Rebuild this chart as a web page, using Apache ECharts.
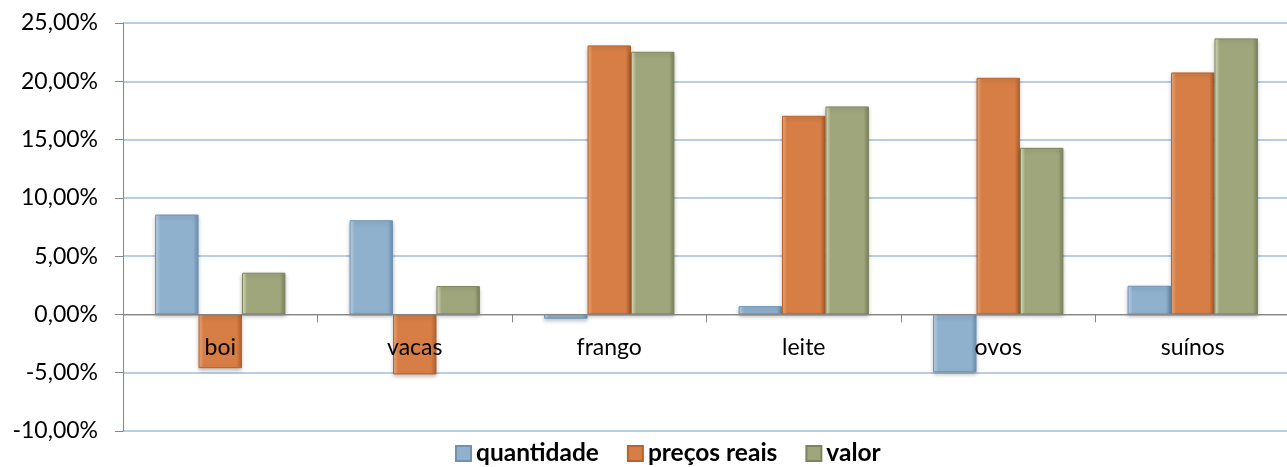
<!DOCTYPE html>
<html>
<head>
<meta charset="utf-8">
<script src="https://cdn.jsdelivr.net/npm/echarts@6/dist/echarts.min.js"></script>
<style>
  html, body { margin: 0; padding: 0; background: #fff; }
  #chart { width: 1287px; height: 467px; }
</style>
</head>
<body>
<div id="chart"></div>
<script>
  // dados (%)
  var categorias = ['boi', 'vacas', 'frango', 'leite', 'ovos', 'suínos']
  var quantidade = [8.57, 8.08, -0.37, 0.71, -4.96, 2.46]
  var precosReais = [-4.61, -5.15, 23.08, 17.04, 20.30, 20.76]
  var valor = [3.58, 2.43, 22.53, 17.84, 14.29, 23.68]
  var yTicks = [-10, -5, 0, 5, 10, 15, 20, 25]

  var fonte = 'Lato, "Open Sans", sans-serif'

  // efeito de bisel: claro nas bordas, cor cheia no meio
  function bevel(light, base, dark) {
    return new echarts.graphic.LinearGradient(0, 0, 1, 0, [
      { offset: 0, color: light },
      { offset: 0.12, color: base },
      { offset: 0.88, color: base },
      { offset: 1, color: dark }
    ])
  }

  function serie(nome, dados, cores) {
    return {
      name: nome,
      type: 'bar',
      data: dados,
      barGap: '0%',
      barCategoryGap: '33%',
      z: 2,
      itemStyle: {
        color: bevel(cores[0], cores[1], cores[2]),
        borderColor: cores[2],
        borderWidth: 1,
        shadowColor: 'rgba(0,0,0,0.25)',
        shadowBlur: 4,
        shadowOffsetY: 2
      }
    }
  }

  var chart = echarts.init(document.getElementById('chart'), null, { renderer: 'canvas' })
  chart.setOption({
    animation: false,
    grid: {
      left: 123,
      top: 23,
      width: 1167,
      height: 408,
      containLabel: false,
      outerBoundsMode: 'none'
    },
    legend: {
      left: 450,
      top: 436,
      itemWidth: 15,
      itemHeight: 15,
      itemGap: 28,
      icon: 'rect',
      textStyle: { fontFamily: fonte, fontSize: 24.5, fontWeight: 'bold', color: '#000' },
      data: ['quantidade', 'preços reais', 'valor']
    },
    xAxis: {
      type: 'category',
      data: categorias,
      z: 5,
      axisLine: { onZero: true, lineStyle: { color: '#868686', width: 1 } },
      axisTick: { show: true, length: 8, lineStyle: { color: '#868686' } },
      // rótulos ficam logo abaixo da linha do zero, por cima das barras
      axisLabel: { fontFamily: fonte, fontSize: 23, color: '#000', margin: -95 },
      splitLine: { show: false }
    },
    yAxis: {
      type: 'value',
      min: -10,
      max: 25,
      interval: 5,
      axisLine: { show: true, lineStyle: { color: '#868686', width: 1 } },
      axisTick: { show: true, length: 8, lineStyle: { color: '#868686' } },
      axisLabel: {
        fontFamily: fonte,
        fontSize: 23,
        color: '#000',
        margin: 25,
        formatter: function (v) {
          if (yTicks.indexOf(v) < 0) return ''
          return v.toFixed(2).replace('.', ',') + '%'
        }
      },
      splitLine: { show: true, lineStyle: { color: '#B9CDE5', width: 2 } }
    },
    series: [
      serie('quantidade', quantidade, ['#C6DCF0', '#8FB1CE', '#6F92B3']),
      serie('preços reais', precosReais, ['#F6B07E', '#D67E45', '#B8612C']),
      serie('valor', valor, ['#E4EBC6', '#A0A67C', '#7D845C'])
    ]
  })
</script>
</body>
</html>
